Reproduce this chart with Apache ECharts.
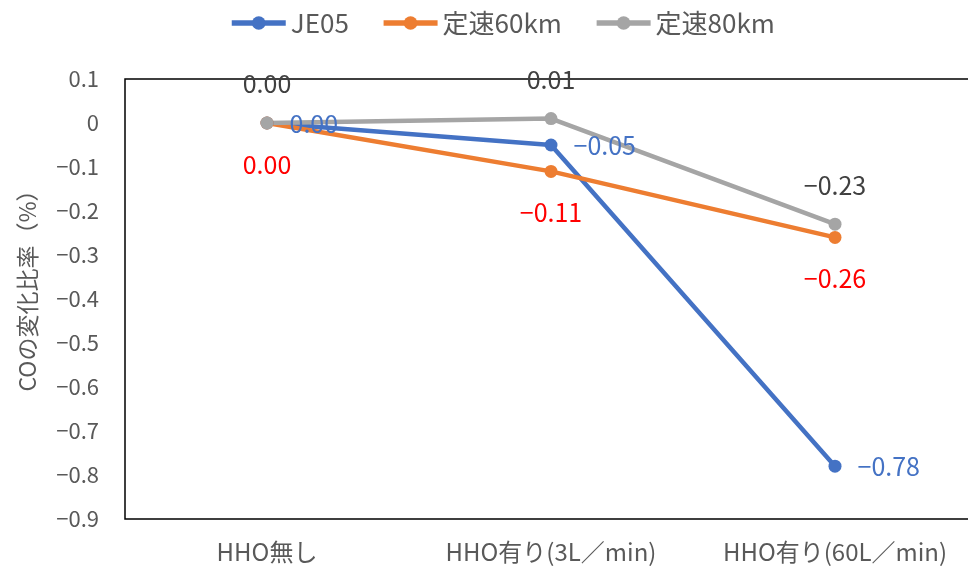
<!DOCTYPE html>
<html>
<head>
<meta charset="utf-8">
<script src="https://cdn.jsdelivr.net/npm/echarts@6/dist/echarts.min.js"></script>
<style>
  html, body { margin: 0; padding: 0; background: #fff; }
  #chart { width: 968px; height: 572px; }
</style>
</head>
<body>
<div id="chart"></div>
<script>
// CO change ratio by HHO supply condition
const categories = ['HHO無し', 'HHO有り(3L／min)', 'HHO有り(60L／min)'];
const seriesNames = ['JE05', '定速60km', '定速80km'];
const je05 = [0.00, -0.05, -0.78];
const const60 = [0.00, -0.11, -0.26];
const const80 = [0.00, 0.01, -0.23];
const yTicks = { min: -0.9, max: 0.1, step: 0.1 };
const yAxisName = 'COの変化比率（%）';

const FONT = '"Noto Sans CJK JP", "Noto Sans", sans-serif';
const minus = s => s.replace('-', '\u2212');
const fmtLabel = p => minus(Number(p.value).toFixed(2));

const chart = echarts.init(document.getElementById('chart'), null, { renderer: 'canvas' });

function lineSeries(name, data, color, labelColor, pos, dist) {
  return {
    name: name,
    type: 'line',
    data: data,
    symbol: 'circle',
    symbolSize: 13,
    lineStyle: { width: 4.5, color: color },
    itemStyle: { color: color },
    emphasis: { disabled: true },
    label: {
      show: true,
      position: pos,
      distance: dist,
      formatter: fmtLabel,
      color: labelColor,
      fontSize: 25,
      fontFamily: FONT
    },
    z: 2
  };
}

chart.setOption({
  animation: false,
  backgroundColor: '#ffffff',
  legend: {
    top: 5,
    left: 224,
    itemWidth: 54,
    itemHeight: 17,
    itemGap: 32,
    lineStyle: { width: 5.5 },
    textStyle: { fontSize: 26, color: '#595959', fontFamily: FONT },
    data: seriesNames
  },
  grid: {
    left: 125,
    top: 79,
    width: 852,
    height: 440,
    show: true,
    borderColor: '#000',
    borderWidth: 1.5,
    outerBoundsMode: 'none',
    containLabel: false
  },
  xAxis: {
    type: 'category',
    data: categories,
    boundaryGap: true,
    axisLine: { show: false },
    axisTick: { show: false },
    axisLabel: {
      interval: 0,
      hideOverlap: false,
      margin: 21,
      fontSize: 24,
      color: '#595959',
      fontFamily: FONT
    }
  },
  yAxis: {
    type: 'value',
    min: yTicks.min,
    max: yTicks.max,
    interval: yTicks.step,
    name: yAxisName,
    nameLocation: 'middle',
    nameGap: 86,
    nameRotate: 90,
    nameTextStyle: { fontSize: 23, color: '#595959', fontFamily: FONT, padding: [0, 0, 0, 28] },
    axisLine: { show: false },
    axisTick: { show: false },
    splitLine: { show: false },
    axisLabel: {
      margin: 26,
      fontSize: 22,
      color: '#595959',
      fontFamily: FONT,
      formatter: v => {
        const r = Math.round(v * 10) / 10;
        if (r === 0) return '0';
        return minus(r.toFixed(1));
      }
    }
  },
  series: [
    lineSeries(seriesNames[0], je05, '#4472C4', '#4472C4', 'right', 16),
    lineSeries(seriesNames[1], const60, '#ED7D31', '#FF0000', 'bottom', 22),
    lineSeries(seriesNames[2], const80, '#A5A5A5', '#404040', 'top', 20)
  ]
});
</script>
</body>
</html>
